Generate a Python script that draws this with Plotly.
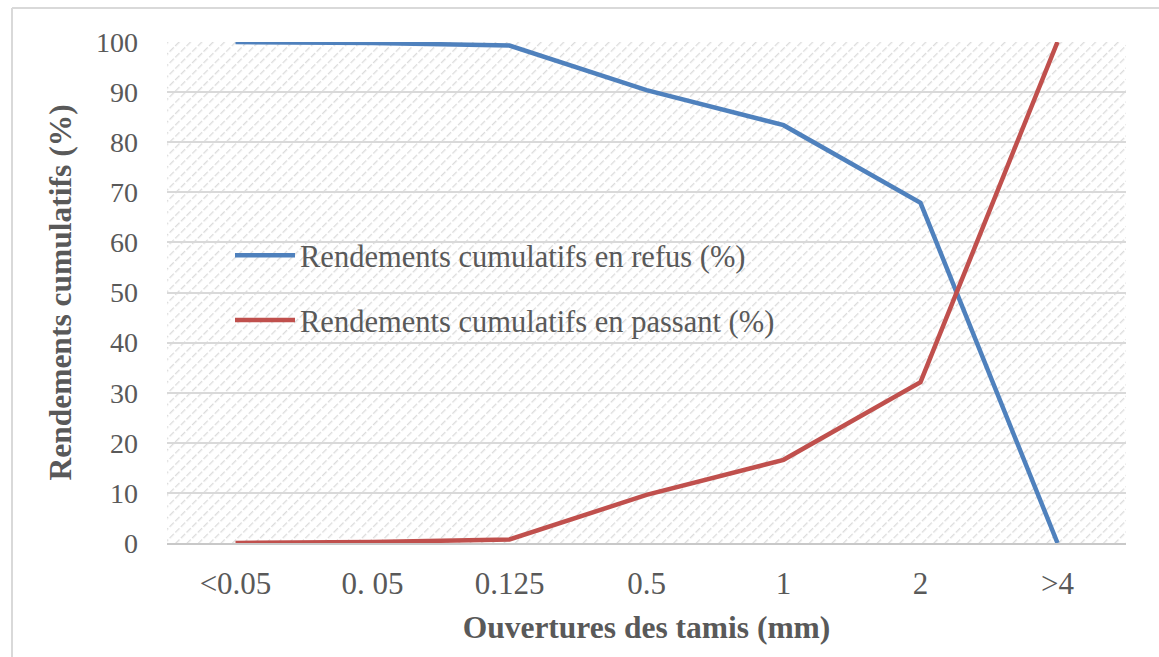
import base64
import plotly.graph_objects as go

# Sieve openings (x categories) and cumulative yields (%)
ouvertures = ["<0.05", "0. 05", "0.125", "0.5", "1", "2", ">4"]
refus = [100.0, 99.8, 99.3, 90.4, 83.4, 67.9, 0.0]
passant = [0.0, 0.2, 0.7, 9.6, 16.6, 32.1, 100.0]
y_ticks = [0, 10, 20, 30, 40, 50, 60, 70, 80, 90, 100]

W, H = 1159, 657
ML, MR, MT, MB = 167, 33, 42, 114
PW, PH = W - ML - MR, H - MT - MB

SERIF = "Liberation Serif, Times New Roman, serif"
TXT = "#595959"
GRID = "#d9d9d9"

# Light downward-diagonal hatch used as the plot-area background
hatch_svg = f"""<svg xmlns='http://www.w3.org/2000/svg' width='{PW}' height='{PH}'>
<defs><pattern id='h' width='8' height='8' patternUnits='userSpaceOnUse' patternTransform='rotate(45)'>
<rect width='8' height='8' fill='white'/>
<line x1='0' y1='0' x2='0' y2='8' stroke='#dcdcdc' stroke-width='2.6' stroke-dasharray='5 2'/>
</pattern></defs>
<rect width='100%' height='100%' fill='url(#h)'/></svg>"""
hatch_uri = "data:image/svg+xml;base64," + base64.b64encode(hatch_svg.encode()).decode()

fig = go.Figure()
fig.add_trace(go.Scatter(
    x=ouvertures, y=refus, mode="lines", name="Rendements cumulatifs en refus (%)",
    line=dict(color="#4f81bd", width=4.5), legendgroup="a",
))
fig.add_trace(go.Scatter(
    x=ouvertures, y=passant, mode="lines", name="Rendements cumulatifs en passant (%)",
    line=dict(color="#c0504d", width=4.5), legendgroup="b",
))

fig.update_layout(
    width=W, height=H,
    margin=dict(l=ML, r=MR, t=MT, b=MB),
    paper_bgcolor="white", plot_bgcolor="rgba(0,0,0,0)",
    font=dict(family=SERIF, color=TXT, size=28),
    showlegend=True,
    legend=dict(
        x=(230 - ML) / PW, y=(H - MB - 229) / PH, xanchor="left", yanchor="top",
        bgcolor="rgba(0,0,0,0)", font=dict(family=SERIF, size=30.5, color=TXT),
        tracegroupgap=22, itemwidth=60,
    ),
    xaxis=dict(
        type="category", categoryorder="array", categoryarray=ouvertures,
        range=[-0.5, 6.5], showgrid=False, zeroline=False,
        showline=True, linecolor="#c8c8c8", linewidth=1.5,
        ticks="", ticklabelstandoff=12,
        tickfont=dict(family=SERIF, size=31, color=TXT),
        title=dict(text="<b>Ouvertures des tamis (mm)</b>", standoff=16,
                   font=dict(family=SERIF, size=31.5, color=TXT)),
    ),
    xaxis2=dict(
        overlaying="x", anchor="y", range=[-0.5, 6.5], dtick=0.5, tick0=-0.5,
        showgrid=True, gridcolor=GRID, gridwidth=1.5,
        showticklabels=False, ticks="", zeroline=False, showline=False,
    ),
    yaxis=dict(
        range=[0, 100], tickvals=y_ticks, showgrid=True, gridcolor=GRID, gridwidth=1.5,
        zeroline=False, showline=False, ticks="", ticklabelstandoff=28,
        tickfont=dict(family=SERIF, size=28, color=TXT),
        title=dict(text="<b>Rendements cumulatifs (%)</b>", standoff=14,
                   font=dict(family=SERIF, size=31.5, color=TXT)),
    ),
    images=[dict(
        source=hatch_uri, xref="paper", yref="paper", x=0, y=1,
        sizex=1, sizey=1, sizing="stretch", layer="below",
        xanchor="left", yanchor="top",
    )],
    shapes=[
        # chart frame (left and top edges)
        dict(type="line", xref="paper", yref="paper",
             x0=(12 - ML) / PW, x1=(12 - ML) / PW, y0=(H - MB - 8) / PH, y1=-0.5,
             line=dict(color="#d9d9d9", width=2)),
        dict(type="line", xref="paper", yref="paper",
             x0=(12 - ML) / PW, x1=1.2, y0=(H - MB - 8) / PH, y1=(H - MB - 8) / PH,
             line=dict(color="#d9d9d9", width=2)),
    ],
)

fig.write_html("out.html")
